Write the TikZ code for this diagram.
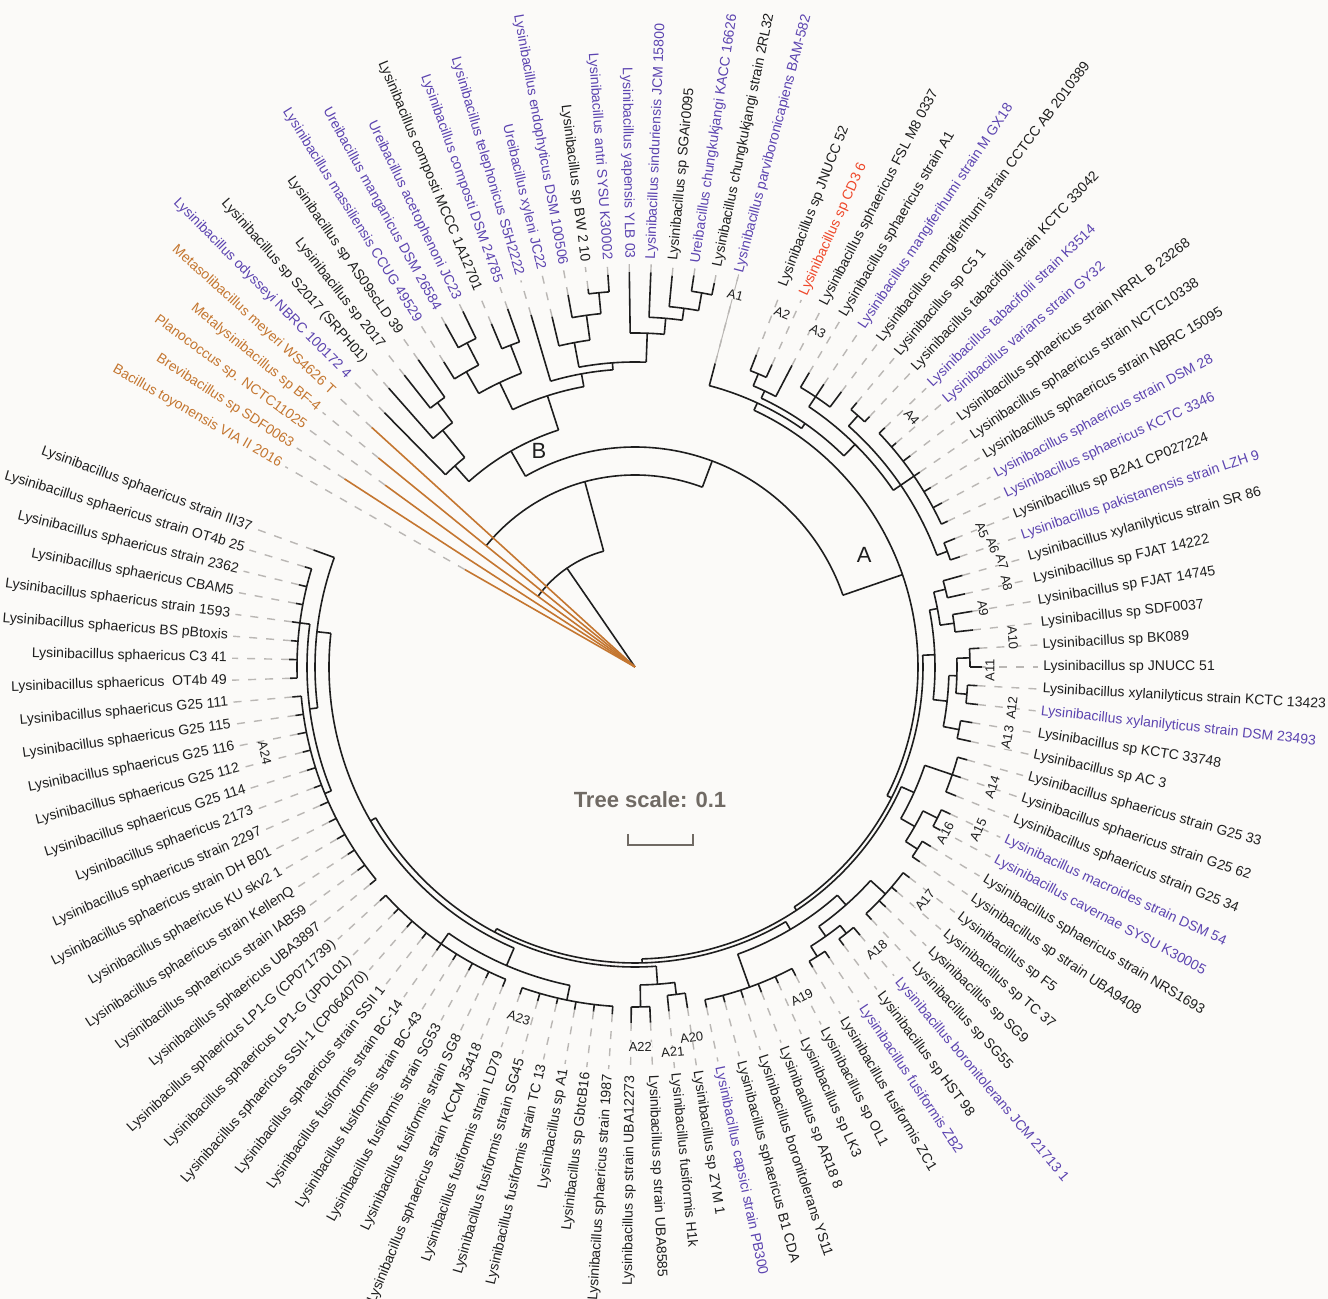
\documentclass[tikz,border=0pt]{standalone}
\usepackage{fontspec}
\setmainfont{Liberation Sans}
\definecolor{bgcol}{RGB}{251,250,248}
\definecolor{tk}{RGB}{30,30,30}
\definecolor{tp}{RGB}{92,68,176}
\definecolor{tr}{RGB}{238,72,42}
\definecolor{og}{RGB}{196,118,48}
\definecolor{dashgray}{RGB}{186,183,180}
\definecolor{scalegray}{RGB}{112,106,100}
\tikzset{
  branch/.style={line width=0.8pt, tk},
  guide/.style={line width=0.7pt, dashgray, dash pattern=on 4pt off 4.5pt, shorten >=1.5pt},
  leaf/.style={font=\fontsize{7}{8}\selectfont, inner sep=1pt},
  tag/.style={font=\fontsize{6.5}{7}\selectfont, inner sep=0pt, tk},
  cladetag/.style={font=\fontsize{11}{12}\selectfont, tk}
}

\begin{document}
\begin{tikzpicture}[x=0.5pt, y=0.5pt]
    \fill[bgcol] (-635,-632) rectangle (693,667);
    \useasboundingbox (-635,-632) rectangle (693,667);

    % internal nodes: parent radius / radius / first child angle / last child angle
    \foreach \rp/\r/\aa/\ab in {
        0/120/143.95/105.141, 120/192/140.825/69.458, 192/220/119.866/19.050,
        220/249/131.841/107.890, 249/270/134.575/129.106, 270/305/131.45/126.763, 305/330/128.325/125.2,
        249/285/115.434/100.346, 285/315/119.731/111.138, 315/340/122.075/117.388, 340/365/118.95/115.825,
        315/345/112.7/109.575, 285/298/106.45/94.243, 298/305/100.591/87.895, 305/330/103.325/97.856,
        330/355/100.2/95.513, 355/376/97.075/93.95, 305/334/90.825/84.966, 334/350/87.7/82.231,
        350/362/84.575/79.888, 362/380/81.45/78.325,
        220/283/65.139/-27.039, 283/291/75.2/55.078, 291/297/64.844/45.313, 297/305/67.188/62.5,
        305/318/68.75/65.625, 297/313/56.25/34.375, 313/325/59.375/53.125, 313/322/48.438/20.313,
        322/336/50/46.875, 322/338/43.75/25, 322/333/21.875/18.75,
        283/288/2.344/-56.421, 288/300/10.938/-6.25, 300/308/14.063/7.813, 308/320/15.625/12.5,
        308/322/9.375/6.25, 300/314/-1.563/-10.938, 314/322/1.563/-4.688, 322/335/3.125/0,
        322/333/-3.125/-6.25, 314/330/-9.375/-12.5,
        288/292/-24.219/-88.623, 292/306/-18.75/-29.688, 306/335/-15.625/-21.875, 306/322/-26.563/-32.813,
        322/338/-25/-28.125, 322/336/-31.25/-34.375,
        292/296/-59.375/-117.871, 296/305/-48.438/-70.313, 305/318/-42.188/-54.688, 318/338/-37.5/-46.875,
        318/330/-51.563/-57.813, 330/340/-50/-53.125, 330/342/-56.25/-59.375, 305/340/-62.5/-78.125,
        296/300/-85.938/-149.805, 300/318/-82.813/-89.063, 318/330/-81.25/-84.375, 318/340/-87.5/-90.625,
        300/306/-113.281/-186.328, 306/325/-101.563/-125, 325/340/-93.75/-109.375, 325/338/-112.5/-137.5,
        306/320/-172.656/-200, 320/328/-157.813/-187.5, 328/335/-140.625/-175, 328/338/-178.125/-196.875}{
        \pgfmathsetmacro\am{(\aa+\ab)/2}
        \draw[branch] (\am:\rp) -- (\am:\r);
        \draw[branch] (\aa:\r) arc[start angle=\aa, end angle=\ab, radius=\r];
    }

    % outgroups and clade B
    \foreach \b/\t/\lc/\tc/\txt [count=\i] in {
        0/196/og/og/{Bacillus toyonensis VIA II 2016},
        0/346/og/og/{Brevibacillus sp SDF0063},
        0/309/og/og/{Planococcus sp. NCTC11025},
        0/331/og/og/{Metalysinibacillus sp BF-4},
        0/356/og/og/{Metasolibacillus meyeri WS4626 T},
        270/357/tk/tp/{Lysinibacillus odysseyi NBRC 100172 4},
        305/372/tk/tk/{Lysinibacillus sp S2017 (SRPH01)},
        330/372/tk/tk/{Lysinibacillus sp 2017},
        330/376/tk/tk/{Lysinibacillus sp AS09scLD 39},
        340/360/tk/tp/{Lysinibacillus massiliensis CCUG 49529},
        365/392/tk/tp/{Ureibacillus manganicus DSM 26584},
        365/395/tk/tp/{Ureibacillus acetophenoni JC23},
        345/372/tk/tk/{Lysinibacillus composti MCCC 1A12701},
        345/380/tk/tp/{Lysinibacillus composti DSM 24785},
        298/367/tk/tp/{Lysinibacillus telephonicus S5H2222},
        330/360/tk/tp/{Ureibacillus xyleni JC22},
        355/378/tk/tp/{Lysinibacillus endophyticus DSM 100506},
        376/381/tk/tk/{Lysinibacillus sp BW 2 10},
        376/393/tk/tp/{Lysinibacillus antri SYSU K30002},
        334/395/tk/tp/{Lysinibacillus yapensis YLB 03},
        350/395/tk/tp/{Lysinibacillus sinduriensis JCM 15800},
        362/393/tk/tk/{Lysinibacillus sp SGAir0095},
        380/396/tk/tp/{Ureibacillus chungkukjangi KACC 16626},
        380/392/tk/tk/{Lysinibacillus chungkukjangi strain 2RL32},
        291/314/tk/tp/{Lysinibacillus parviboronicapiens BAM-582}}{
        \pgfmathsetmacro\ang{150.2-3.125*(\i-1)}
        \pgfmathtruncatemacro\flip{(\ang>90)||(\ang<-90)}
        \coordinate (ut\i) at (\ang:\t);
        \ifnum\flip=1
            \node[leaf, text=\tc, anchor=east, rotate=\ang+180] (u\i) at (\ang:406) {\txt};
            \draw[guide] (ut\i) -- (u\i.east);
        \else
            \node[leaf, text=\tc, anchor=west, rotate=\ang] (u\i) at (\ang:406) {\txt};
            \draw[guide] (ut\i) -- (u\i.west);
        \fi
        \draw[branch, draw=\lc] (\ang:\b) -- (ut\i);
    }
    \draw[line width=0.5pt, dashgray] (ut25) -- (u25.west);

    % clade A
    \foreach \b/\t/\tc/\txt [count=\i] in {
        318/335/tk/{Lysinibacillus sp JNUCC 52},
        318/332/tr/{Lysinibacillus sp CD3 6},
        305/340/tk/{Lysinibacillus sphaericus FSL M8 0337},
        325/342/tk/{Lysinibacillus sphaericus strain A1},
        325/340/tp/{Lysinibacillus mangiferihumi strain M GX18},
        325/344/tk/{Lysinibacillus mangiferihumi strain CCTCC AB 2010389},
        336/345/tk/{Lysinibacillus sp C5 1},
        336/343/tk/{Lysinibacillus tabacifolii strain KCTC 33042},
        338/346/tp/{Lysinibacillus tabacifolii strain K3514},
        338/344/tp/{Lysinibacillus varians strain GY32},
        338/347/tk/{Lysinibacillus sphaericus strain NRRL B 23268},
        338/345/tk/{Lysinibacillus sphaericus strain NCTC10338},
        338/346/tk/{Lysinibacillus sphaericus strain NBRC 15095},
        338/348/tp/{Lysinibacillus sphaericus strain DSM 28},
        338/345/tp/{Lysinibacillus sphaericus KCTC 3346},
        333/345/tk/{Lysinibacillus sp B2A1 CP027224},
        333/343/tp/{Lysinibacillus pakistanensis strain LZH 9},
        320/340/tk/{Lysinibacillus xylanilyticus strain SR 86},
        320/338/tk/{Lysinibacillus sp FJAT 14222},
        322/342/tk/{Lysinibacillus sp FJAT 14745},
        322/340/tk/{Lysinibacillus sp SDF0037},
        335/345/tk/{Lysinibacillus sp BK089},
        335/347/tk/{Lysinibacillus sp JNUCC 51},
        333/343/tk/{Lysinibacillus xylanilyticus strain KCTC 13423},
        333/345/tp/{Lysinibacillus xylanilyticus strain DSM 23493},
        330/342/tk/{Lysinibacillus sp KCTC 33748},
        330/344/tk/{Lysinibacillus sp AC 3},
        335/345/tk/{Lysinibacillus sphaericus strain G25 33},
        335/344/tk/{Lysinibacillus sphaericus strain G25 62},
        335/346/tk/{Lysinibacillus sphaericus strain G25 34},
        338/348/tp/{Lysinibacillus macroides strain DSM 54},
        338/346/tp/{Lysinibacillus cavernae SYSU K30005},
        336/346/tk/{Lysinibacillus sphaericus strain NRS1693},
        336/345/tk/{Lysinibacillus sp strain UBA9408},
        338/346/tk/{Lysinibacillus sp F5},
        338/345/tk/{Lysinibacillus sp TC 37},
        338/347/tk/{Lysinibacillus sp SG9},
        338/346/tk/{Lysinibacillus sp SG55},
        340/350/tp/{Lysinibacillus boronitolerans JCM 21713 1},
        340/348/tk/{Lysinibacillus sp HST 98},
        342/350/tp/{Lysinibacillus fusiformis ZB2},
        342/349/tk/{Lysinibacillus fusiformis ZC1},
        340/348/tk/{Lysinibacillus sp OL1},
        340/347/tk/{Lysinibacillus sp LK3},
        340/349/tk/{Lysinibacillus sp AR18 8},
        340/348/tk/{Lysinibacillus boronitolerans YS11},
        340/347/tk/{Lysinibacillus sphaericus B1 CDA},
        340/348/tp/{Lysinibacillus capsici strain PB300},
        330/345/tk/{Lysinibacillus sp ZYM 1},
        330/346/tk/{Lysinibacillus fusiformis H1k},
        340/356/tk/{Lysinibacillus sp strain UBA8585},
        340/356/tk/{Lysinibacillus sp strain UBA12273},
        340/348/tk/{Lysinibacillus sphaericus strain 1987},
        340/347/tk/{Lysinibacillus sp GbtcB16},
        340/348/tk/{Lysinibacillus sp A1},
        340/346/tk/{Lysinibacillus fusiformis strain TC 13},
        340/348/tk/{Lysinibacillus fusiformis strain SG45},
        340/347/tk/{Lysinibacillus fusiformis strain LD79},
        338/346/tk/{Lysinibacillus sphaericus strain KCCM 35418},
        338/345/tk/{Lysinibacillus fusiformis strain SG8},
        338/346/tk/{Lysinibacillus fusiformis strain SG53},
        338/345/tk/{Lysinibacillus fusiformis strain BC-43},
        338/346/tk/{Lysinibacillus fusiformis strain BC-14},
        338/345/tk/{Lysinibacillus sphaericus strain SSII 1},
        338/346/tk/{Lysinibacillus sphaericus SSII-1 (CP064070)},
        338/345/tk/{Lysinibacillus sphaericus LP1-G (JPDL01)},
        338/346/tk/{Lysinibacillus sphaericus LP1-G (CP071739)},
        335/343/tk/{Lysinibacillus sphaericus UBA3897},
        335/344/tk/{Lysinibacillus sphaericus strain IAB59},
        335/343/tk/{Lysinibacillus sphaericus strain KellenQ},
        335/344/tk/{Lysinibacillus sphaericus KU skv2 1},
        335/343/tk/{Lysinibacillus sphaericus strain DH B01},
        335/344/tk/{Lysinibacillus sphaericus strain 2297},
        335/343/tk/{Lysinibacillus sphaericus 2173},
        335/344/tk/{Lysinibacillus sphaericus G25 114},
        335/343/tk/{Lysinibacillus sphaericus G25 112},
        335/344/tk/{Lysinibacillus sphaericus G25 116},
        335/343/tk/{Lysinibacillus sphaericus G25 115},
        335/344/tk/{Lysinibacillus sphaericus G25 111},
        338/345/tk/{Lysinibacillus sphaericus~ OT4b 49},
        338/346/tk/{Lysinibacillus sphaericus C3 41},
        338/345/tk/{Lysinibacillus sphaericus BS pBtoxis},
        338/346/tk/{Lysinibacillus sphaericus strain 1593},
        338/345/tk/{Lysinibacillus sphaericus CBAM5},
        338/346/tk/{Lysinibacillus sphaericus strain 2362},
        338/345/tk/{Lysinibacillus sphaericus strain OT4b 25},
        320/342/tk/{Lysinibacillus sphaericus strain III37}}{
        \pgfmathsetmacro\ang{68.75-3.125*(\i-1)}
        \pgfmathtruncatemacro\flip{\ang<-90}
        \coordinate (at\i) at (\ang:\t);
        \ifnum\flip=1
            \node[leaf, text=\tc, anchor=east, rotate=\ang+180] (a\i) at (\ang:406) {\txt};
            \draw[guide] (at\i) -- (a\i.east);
        \else
            \node[leaf, text=\tc, anchor=west, rotate=\ang] (a\i) at (\ang:406) {\txt};
            \draw[guide] (at\i) -- (a\i.west);
        \fi
        \draw[branch] (\ang:\b) -- (at\i);
    }

    % subclade tags
    \foreach \ang/\r/\nm in {74.9/385/A1, 67.4/383/A2, 61.4/382/A3, 42.1/373/A4, 21.5/373/A5,
        18.8/378/A6, 16.0/382/A7, 12.7/381/A8, 9.6/353/A9, 4.4/379/A10, -0.5/355/A11,
        -6.2/379/A12, -10.7/379/A13, -18.6/377/A14, -25.4/380/A15, -28.2/352/A16,
        -38.8/372/A17, -49.5/372/A18, -63.2/370/A19, -81.3/375/A20, -84.4/387/A21,
        -89.2/380/A22, -108.3/370/A23, -166.9/380/A24}{
        \pgfmathsetmacro\rot{((\ang-90)<(-90)) ? (\ang+90) : (\ang-90)}
        \node[tag, fill=bgcol, rotate=\rot] (tag\nm) at (\ang:\r) {\nm};
    }

    \node[cladetag] (cladeA) at (26:255) {A};
    \node[cladetag] (cladeB) at (114:236) {B};

    \node[font=\bfseries\fontsize{11}{12}\selectfont, text=scalegray] (scaletext) at (15,-133) {Tree scale: 0.1};
    \draw[line width=1pt, scalegray] (-7,-167) -- (-7,-178) -- (58,-178) -- (58,-167);
\end{tikzpicture}
\end{document}
